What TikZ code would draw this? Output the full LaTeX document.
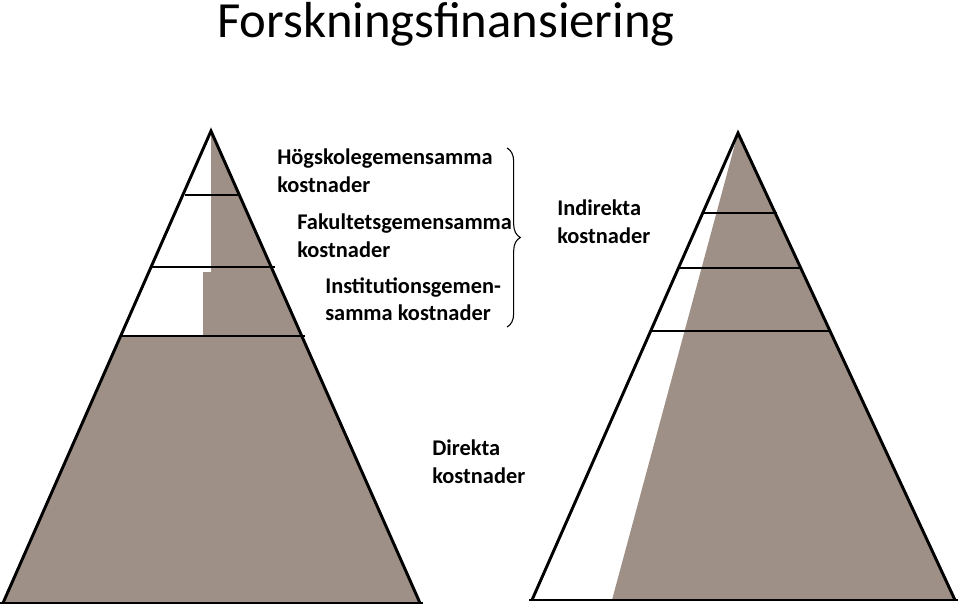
\documentclass[tikz,border=0pt]{standalone}
\usepackage{fontspec}
\setmainfont{Carlito}
\usetikzlibrary{decorations.pathreplacing}

\definecolor{gravel}{RGB}{158,144,134}

\begin{document}
\begin{tikzpicture}[x=0.75pt, y=-0.75pt,
    edge/.style={line width=2.2pt},
    tier/.style={line width=1.8pt},
    lbl/.style={font=\fontsize{16.8}{20.5}\selectfont\bfseries, align=left, inner sep=0pt, anchor=north west}]
\useasboundingbox (0,0) rectangle (960,607);

% title
\node[font=\fontsize{38}{42}\selectfont, anchor=base] (title) at (446,37) {Forskningsfinansiering};

% left pyramid
\fill[gravel] (211,131) -- (211,272) -- (203,272) -- (203,336) -- (120,336) -- (3,603) -- (420,603) -- cycle;
\draw[tier] (185,195) -- (240,195);
\draw[tier] (150,267) -- (275,267);
\draw[tier] (120,336) -- (305,336);
\draw[edge] (3,603) -- (211,131) -- (420,603);
\draw[edge] (0,603) -- (423,603);

% right pyramid
\fill[gravel] (738,133) -- (612,600) -- (955,600) -- cycle;
\draw[tier] (703,213) -- (777,213);
\draw[tier] (678,268) -- (802,268);
\draw[tier] (650,331) -- (831,331);
\draw[edge] (532,600) -- (738,133) -- (955,600);
\draw[edge] (529,600) -- (958,600);

% labels
\node[lbl] (hogskola) at (277,149) {Högskolegemensamma\\kostnader};
\node[lbl] (fakultet) at (297,214) {Fakultetsgemensamma\\kostnader};
\node[lbl] (institution) at (325,277) {Institutionsgemen-\\samma kostnader};
\node[lbl] (indirekt) at (557,200) {Indirekta\\kostnader};
\node[lbl] (direkt) at (432,440) {Direkta\\kostnader};

\coordinate (bracetop) at (507,148);
\coordinate (bracebot) at (507,327);
\draw[decorate, decoration={brace, amplitude=10pt}, thick] (bracetop) -- (bracebot);
\end{tikzpicture}
\end{document}
